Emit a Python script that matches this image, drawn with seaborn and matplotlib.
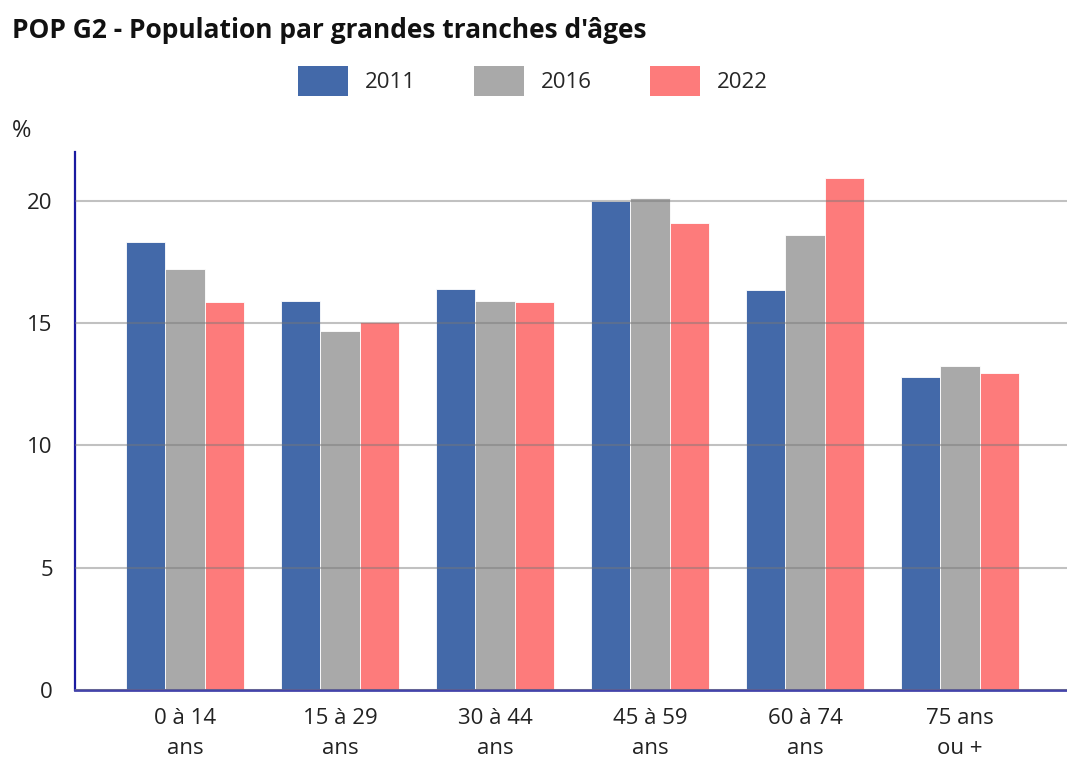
import matplotlib
matplotlib.use("Agg")
import matplotlib.pyplot as plt
import matplotlib.patches as mpatches
import seaborn as sns
import pandas as pd

categories = ["0 à 14\nans", "15 à 29\nans", "30 à 44\nans", "45 à 59\nans", "60 à 74\nans", "75 ans\nou +"]
years = ["2011", "2016", "2022"]
v2011 = [18.3, 15.9, 16.4, 20.0, 16.35, 12.8]
v2016 = [17.2, 14.7, 15.9, 20.1, 18.6, 13.25]
v2022 = [15.85, 15.05, 15.85, 19.1, 20.95, 12.95]
colors = ["#4369a9", "#a9a9a9", "#fd7b7b"]
yticks = [0, 5, 10, 15, 20]

rows = []
for yr, vals in zip(years, [v2011, v2016, v2022]):
    for c, v in zip(categories, vals):
        rows.append({"cat": c, "year": yr, "val": v})
df = pd.DataFrame(rows)

sns.set_theme(style="white")
plt.rcParams["font.family"] = ["Open Sans", "DejaVu Sans"]

fig = plt.figure(figsize=(10.67, 7.58), dpi=100)
ax = fig.add_axes([75/1067, 1-690/758, 1-75/1067, (690-152)/758])

sns.barplot(data=df, x="cat", y="val", hue="year", palette=colors,
            order=categories, hue_order=years, width=0.76, ax=ax,
            saturation=1, edgecolor="white", linewidth=0.6, legend=False)

ax.set_xlim(-0.71, 5.69)
ax.set_ylim(0, 22)
ax.set_yticks(yticks)
ax.set_yticklabels([str(t) for t in yticks], fontsize=16, color="#222222")
ax.set_xlabel("")
ax.set_ylabel("")
ax.tick_params(axis="x", length=0, pad=13, labelsize=16, labelcolor="#222222")
ax.tick_params(axis="y", length=8, width=1.5, color="#c0c0c0", pad=8)
for lbl in ax.get_xticklabels():
    lbl.set_linespacing(1.55)

ax.set_axisbelow(False)
ax.yaxis.grid(True, color="#777777", alpha=0.45, linewidth=1.5)
ax.xaxis.grid(False)

for s in ["top", "right"]:
    ax.spines[s].set_visible(False)
ax.spines["left"].set_color("#1a1aa0")
ax.spines["left"].set_linewidth(1.6)
ax.spines["bottom"].set_color("#4444aa")
ax.spines["bottom"].set_linewidth(2)

fig.text(12/1067, 1-31/758, "POP G2 - Population par grandes tranches d'âges",
         fontsize=19, fontweight="bold", va="center", ha="left", color="#111111")
fig.text(12/1067, 1-131/758, "%", fontsize=17, va="center", ha="left", color="#222222")

handles = [mpatches.Patch(facecolor=c, edgecolor="none") for c in colors]
fig.legend(handles, years, loc="center", bbox_to_anchor=(533/1067, 1-81/758),
           ncol=3, frameon=False, fontsize=16, handlelength=2.25, handleheight=1.7,
           columnspacing=2.6, handletextpad=0.77)

fig.savefig("out.png", dpi=100)
